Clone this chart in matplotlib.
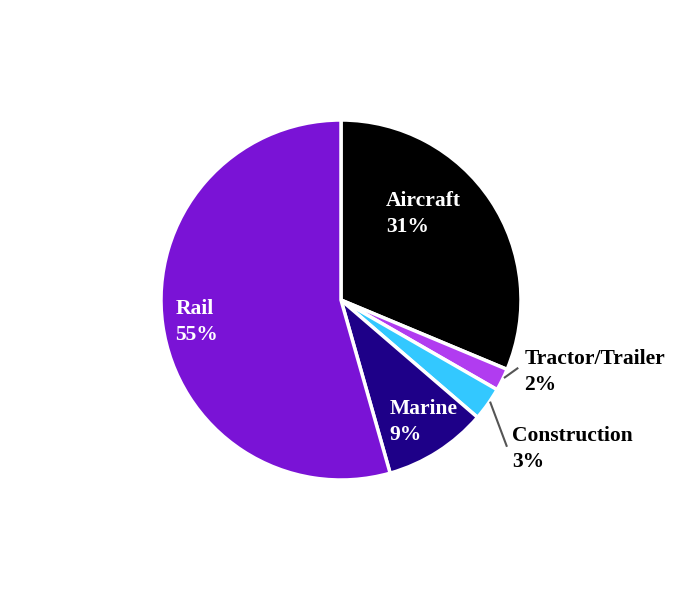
import matplotlib.pyplot as plt

labels = ['Aircraft', 'Tractor/Trailer', 'Construction', 'Marine', 'Rail']
shares = [31.3, 2.0, 3.0, 9.3, 54.4]
pct_text = ['31%', '2%', '3%', '9%', '55%']
colors = ['#000000', '#b13cf0', '#33c8ff', '#1e0088', '#7a13d6']

plt.rcParams['font.family'] = ['Liberation Serif', 'DejaVu Serif']

fig = plt.figure(figsize=(6.8, 6.0), dpi=100)
ax = fig.add_axes([(341 - 180) / 680, (600 - 480) / 600, 360 / 680, 360 / 600])

ax.pie(shares, colors=colors, startangle=90, counterclock=False,
       wedgeprops=dict(edgecolor='white', linewidth=2.5))
ax.set_xlim(-1, 1)
ax.set_ylim(-1, 1)
ax.set_aspect('equal')
ax.axis('off')

# inside labels (white) and outside labels (black with leader)
inside = {'Aircraft': (0.25, 0.48), 'Rail': (-0.92, -0.12), 'Marine': (0.27, -0.68)}
outside = {'Tractor/Trailer': ((1.02, -0.40), (0.91, -0.43), (0.98, -0.38)),
           'Construction': ((0.95, -0.83), (0.83, -0.57), (0.92, -0.81))}

for name, pct in zip(labels, pct_text):
    txt = name + '\n' + pct
    if name in inside:
        x, y = inside[name]
        ax.text(x, y, txt, color='white', fontsize=15.5, fontweight='bold',
                ha='left', va='center', linespacing=1.4)
    else:
        (x, y), p0, p1 = outside[name]
        ax.plot([p0[0], p1[0]], [p0[1], p1[1]], color='#555555', lw=1.5,
                clip_on=False)
        ax.text(x, y, txt, color='black', fontsize=15.5, fontweight='bold',
                ha='left', va='center', linespacing=1.4)

fig.savefig('out.png', dpi=100)
